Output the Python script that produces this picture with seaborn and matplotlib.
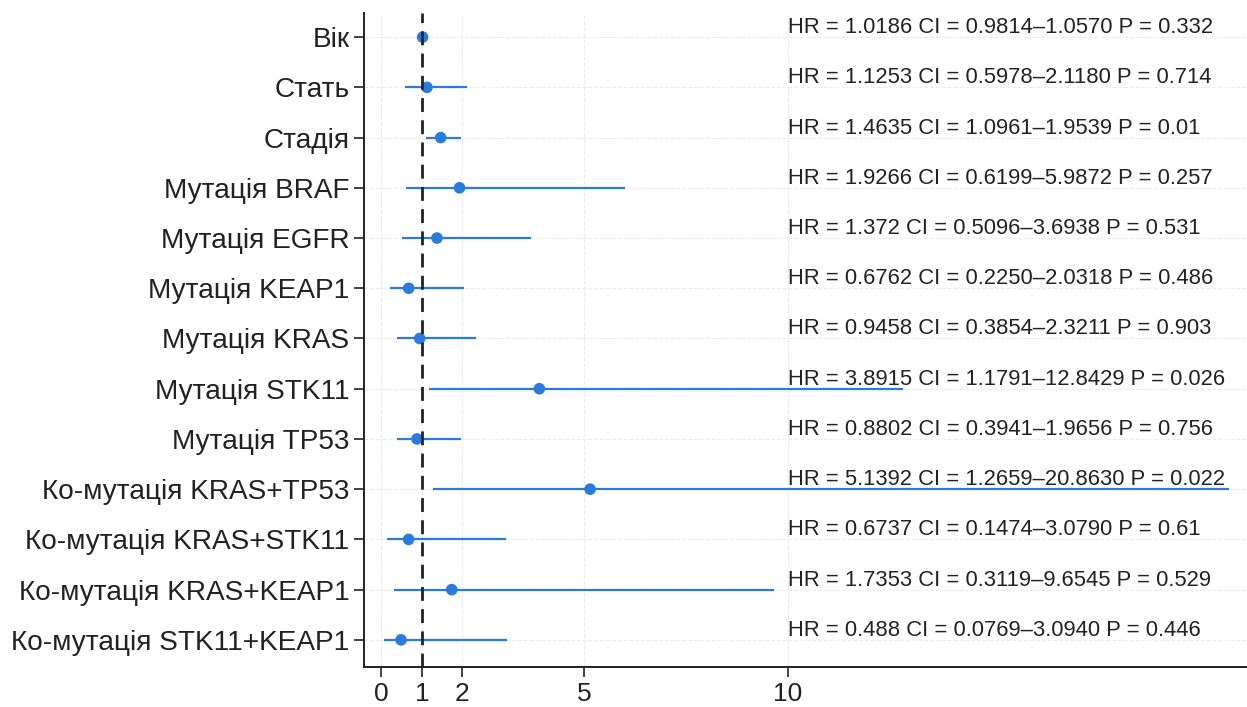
import numpy as np
import pandas as pd
import matplotlib
matplotlib.use("Agg")
import matplotlib.pyplot as plt
import seaborn as sns

# Cox regression results: hazard ratio, 95% CI bounds, p-value
labels = [
    "Вік", "Стать", "Стадія", "Мутація BRAF", "Мутація EGFR",
    "Мутація KEAP1", "Мутація KRAS", "Мутація STK11", "Мутація TP53",
    "Ко-мутація KRAS+TP53", "Ко-мутація KRAS+STK11",
    "Ко-мутація KRAS+KEAP1", "Ко-мутація STK11+KEAP1",
]
hr = [1.0186, 1.1253, 1.4635, 1.9266, 1.372, 0.6762, 0.9458,
      3.8915, 0.8802, 5.1392, 0.6737, 1.7353, 0.488]
ci_low = [0.9814, 0.5978, 1.0961, 0.6199, 0.5096, 0.2250, 0.3854,
          1.1791, 0.3941, 1.2659, 0.1474, 0.3119, 0.0769]
ci_high = [1.0570, 2.1180, 1.9539, 5.9872, 3.6938, 2.0318, 2.3211,
           12.8429, 1.9656, 20.8630, 3.0790, 9.6545, 3.0940]
p_values = [0.332, 0.714, 0.01, 0.257, 0.531, 0.486, 0.903,
            0.026, 0.756, 0.022, 0.61, 0.529, 0.446]
x_ticks = [0, 1, 2, 5, 10]

df = pd.DataFrame({"label": labels, "hr": hr, "lo": ci_low,
                   "hi": ci_high, "p": p_values})
df["pos"] = np.arange(len(df))

sns.set_style("ticks", {"axes.grid": True, "grid.color": "#ececec",
                        "grid.linestyle": "--", "axes.edgecolor": "#222222"})
plt.rcParams["font.family"] = ["Liberation Sans", "DejaVu Sans"]

blue = "#2b7bdc"

fig = plt.figure(figsize=(12.47, 7.07), dpi=100)
ax = fig.add_axes([0.292, 0.0566, 0.708, 0.925])

# confidence intervals
ax.hlines(df["pos"], df["lo"], df["hi"], color=blue, lw=1.6, zorder=2)
# point estimates
sns.scatterplot(data=df, x="hr", y="pos", ax=ax, color=blue, s=70,
                edgecolor="none", zorder=3, legend=False)

# reference line at HR = 1
ax.axvline(1, color="#222222", lw=2.0, ls=(0, (5, 3)), zorder=4)

for _, r in df.iterrows():
    txt = f"HR = {r['hr']} CI = {r['lo']:.4f}\u2013{r['hi']:.4f} P = {r['p']}"
    ax.text(10.0, r["pos"] - 0.19, txt, ha="left", va="center",
            fontsize=15.8, color="#222222", zorder=5)

ax.set_yticks(df["pos"])
ax.set_yticklabels(df["label"], fontsize=20.2, color="#222222")
ax.set_xticks(x_ticks)
ax.set_xticklabels([str(t) for t in x_ticks], fontsize=19, color="#222222")
ax.set_xlim(-0.42, 21.3)
ax.set_ylim(len(df) - 0.46, -0.48)
ax.set_xlabel("")
ax.set_ylabel("")
ax.tick_params(axis="both", length=7, width=1.2, color="#222222")
sns.despine(ax=ax, top=True, right=True)
for s in ("left", "bottom"):
    ax.spines[s].set_linewidth(1.4)

fig.savefig("out.png", dpi=100)
